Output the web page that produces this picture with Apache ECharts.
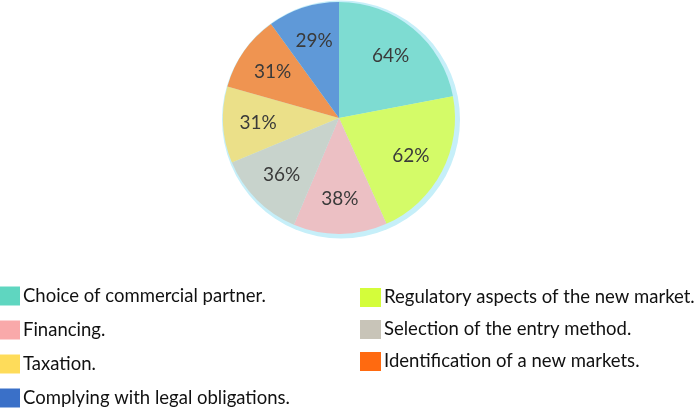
<!DOCTYPE html>
<html><head><meta charset="utf-8">
<script src="https://cdn.jsdelivr.net/npm/echarts@6/dist/echarts.min.js"></script>
<style>html,body{margin:0;padding:0;background:#fff}#c{width:697px;height:410px}</style>
</head><body><div id="c"></div>
<script>
const categories = ["Choice of commercial partner.","Regulatory aspects of the new market.","Financing.","Selection of the entry method.","Taxation.","Identification of a new markets.","Complying with legal obligations."];
const values = [64, 62, 38, 36, 31, 31, 29];
const sliceColors = ["#7edcd2","#d4fb68","#ecc0c4","#c8d3cc","#ebe089","#ef9451","#5f99d8"];
const legendColors = ["#5fd6c0","#d4fd3a","#f9a9aa","#c8c4b8","#fedc5a","#ff6a10","#3a70c8"];
const font = "Lato, 'Open Sans', sans-serif";
const chart = echarts.init(document.getElementById('c'), null, {renderer:'canvas'});
const legendItem = i => ({name: categories[i], itemStyle: {color: legendColors[i]}});
const legendText = {fontFamily:font, fontSize:18.5, color:'#111', padding:[0,0,0,-2]};
chart.setOption({
  animation: false,
  legend: [
    {orient:'vertical', left:0, top:286.5, height:124, padding:0, itemWidth:20, itemHeight:19, itemGap:15, icon:'rect',
     textStyle:legendText, data:[0,2,4,6].map(legendItem)},
    {orient:'vertical', left:360, top:288, height:120, padding:0, itemWidth:21, itemHeight:19, itemGap:13, icon:'rect',
     textStyle:legendText, data:[1,3,5].map(legendItem)}
  ],
  series: [
    {type:'pie', silent:true, center:[341,119.5], radius:[0,119], label:{show:false}, labelLine:{show:false},
     data:[{value:1, name:'_ring', itemStyle:{color:'#c6eff9'}}], legendHoverLink:false},
    {type:'pie', center:[339,118], radius:[0,116], startAngle:90, clockwise:true,
     label:{show:false}, labelLine:{show:false},
     data: values.map((v,i)=>({value:v, name:categories[i], itemStyle:{color:sliceColors[i]}}))},
    {type:'pie', silent:true, center:[339,118], radius:[40,116], startAngle:90, clockwise:true,
     itemStyle:{color:'rgba(0,0,0,0)'},
     label:{show:true, position:'inside', rotate:0, fontStyle:'normal', fontWeight:'normal',
            formatter: p => values[p.dataIndex] + '%', fontFamily:font, fontSize:19, color:'#3a3a3a'},
     labelLine:{show:false},
     data: values.map((v,i)=>({value:v, name:'lbl'+i}))}
  ]
});
</script></body></html>
